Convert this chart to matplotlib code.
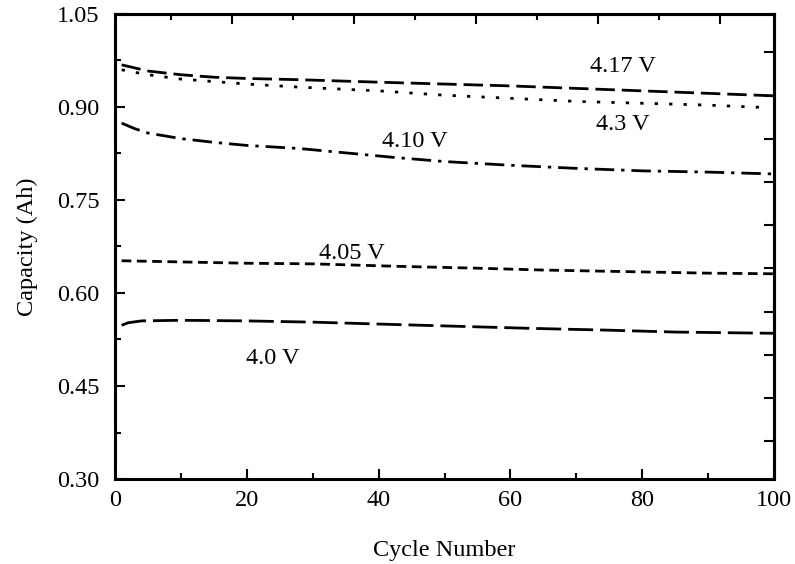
"""
Capacity fade vs cycle number for several charge cut-off voltages.
"""
import numpy as np
import matplotlib.pyplot as plt

plt.rcParams["font.family"] = ["Liberation Serif", "DejaVu Serif"]

# ---- data ----
cyc_417 = [1, 5, 10, 15, 20, 28, 40, 50, 60, 70, 80, 90, 100]
cap_417 = [0.968, 0.958, 0.952, 0.948, 0.946, 0.944, 0.940, 0.937, 0.934, 0.930, 0.926, 0.922, 0.918]

cyc_43 = [1, 5, 10, 20, 28, 40, 50, 60, 70, 80, 90, 99]
cap_43 = [0.960, 0.952, 0.945, 0.937, 0.932, 0.926, 0.919, 0.914, 0.909, 0.906, 0.903, 0.899]

cyc_410 = [1, 3, 5, 10, 15, 20, 28, 35, 42, 50, 60, 70, 80, 90, 100]
cap_410 = [0.874, 0.865, 0.858, 0.849, 0.843, 0.838, 0.833, 0.826, 0.819, 0.812, 0.806, 0.801, 0.797, 0.795, 0.792]

cyc_405 = [1, 20, 30, 43, 55, 65, 80, 90, 100]
cap_405 = [0.652, 0.648, 0.647, 0.643, 0.640, 0.637, 0.634, 0.632, 0.631]

cyc_40 = [1, 2, 4, 10, 20, 30, 43, 53, 63, 75, 85, 100]
cap_40 = [0.548, 0.552, 0.555, 0.556, 0.555, 0.553, 0.549, 0.546, 0.543, 0.540, 0.537, 0.535]

labels = ["4.17 V", "4.3 V", "4.10 V", "4.05 V", "4.0 V"]
label_x = [77.1, 77.1, 45.5, 36.0, 24.0]
label_y = [0.966, 0.871, 0.844, 0.663, 0.495]

x_major = [0, 20, 40, 60, 80, 100]
y_major = [0.30, 0.45, 0.60, 0.75, 0.90, 1.05]

FS = 17.5

fig = plt.figure(figsize=(7.95, 5.64), dpi=100)
ax = fig.add_axes([0.1447, 0.1507, 0.8290, 0.8245])

lw = 2.0
ax.plot(cyc_417, cap_417, color="black", lw=lw, dashes=(7, 2.5))
ax.plot(cyc_43, cap_43, color="black", lw=lw, dashes=(1.2, 4))
ax.plot(cyc_410, cap_410, color="black", lw=lw, dashes=(7, 2.5, 1.2, 2.5))
ax.plot(cyc_405, cap_405, color="black", lw=lw, dashes=(3.5, 2))
ax.plot(cyc_40, cap_40, color="black", lw=lw, dashes=(9, 2.5))

for txt, x, y in zip(labels, label_x, label_y):
    ax.text(x, y, txt, fontsize=FS, ha="center", va="center")

ax.set_xlim(0, 100)
ax.set_ylim(0.30, 1.05)
ax.set_xticks(x_major)
ax.set_xticks(np.arange(10, 100, 20), minor=True)
ax.set_yticks(y_major)
ax.set_yticks(np.arange(0.375, 1.05, 0.15), minor=True)
ax.set_yticklabels([f"{v:.2f}" for v in y_major])
ax.tick_params(which="both", direction="in", labelsize=FS, width=1.5)
ax.tick_params(axis="y", pad=11)
ax.tick_params(axis="x", pad=8)
ax.tick_params(which="major", length=7)
ax.tick_params(which="minor", length=4)

for sp in ax.spines.values():
    sp.set_linewidth(2.2)

# top and right axes carry their own (offset) tick marks, unlabeled
top = ax.secondary_xaxis("top")
top.set_xticks(17.75 + 18.5 * np.arange(5))
top.set_xticks(8.5 + 18.5 * np.arange(5), minor=True)
top.set_xticklabels([])
top.tick_params(which="both", direction="in", width=1.5)
top.tick_params(which="major", length=7)
top.tick_params(which="minor", length=4)
top.spines["top"].set_linewidth(2.2)

right = ax.secondary_yaxis("right")
right.set_yticks(np.linspace(0.361, 0.988, 10))
right.set_yticklabels([])
right.tick_params(direction="in", length=7, width=1.5)
right.spines["right"].set_linewidth(2.2)

ax.set_xlabel("Cycle Number", fontsize=FS, labelpad=21)
ax.set_ylabel("Capacity (Ah)", fontsize=FS, labelpad=14)

fig.savefig("out.png", dpi=100)
